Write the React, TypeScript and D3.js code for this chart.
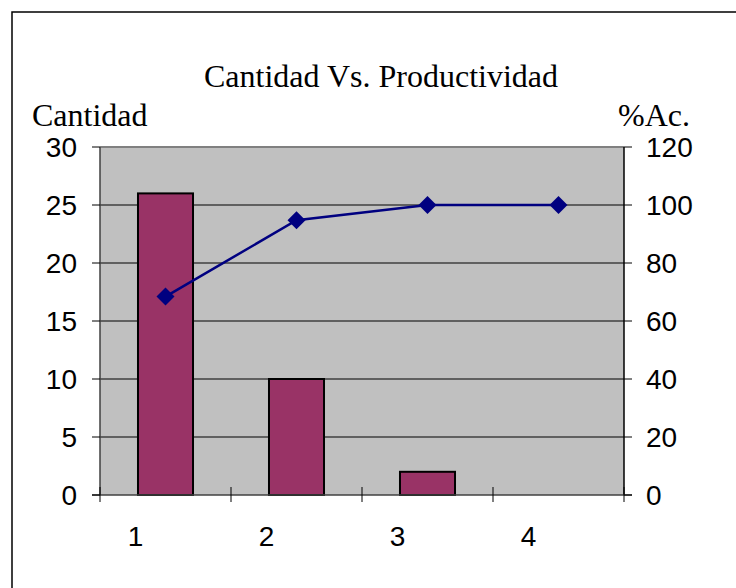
import React from "react";
import * as d3 from "d3";

const categories = ["1", "2", "3", "4"];
const cantidad = [26, 10, 2, 0];
const pctAcumulado = [68.42, 94.74, 100, 100];
const leftTicks = [0, 5, 10, 15, 20, 25, 30];
const rightTicks = [0, 20, 40, 60, 80, 100, 120];

const W = 736;
const H = 588;
const plot = { left: 100, right: 624, top: 147, bottom: 495 };

export default function App() {
  const x = d3.scaleBand<string>().domain(categories).range([plot.left, plot.right]).paddingInner(0).paddingOuter(0);
  const yL = d3.scaleLinear().domain([0, 30]).range([plot.bottom, plot.top]);
  const yR = d3.scaleLinear().domain([0, 120]).range([plot.bottom, plot.top]);
  const bw = x.bandwidth();
  const barW = bw * 0.42;
  const cx = (c: string) => (x(c) as number) + bw / 2;
  const line = d3
    .line<number>()
    .x((_, i) => cx(categories[i]))
    .y((d) => yR(d));
  const sans = "'Liberation Sans', Arial, sans-serif";
  const serif = "'Liberation Serif', 'Times New Roman', serif";
  const boundaries = [...categories.map((c) => x(c) as number), plot.right];

  return (
    <svg width={W} height={H} style={{ position: "absolute", left: 0, top: 0, background: "#fff" }}>
      <rect x={12} y={12} width={W} height={H} fill="#fff" stroke="#000" strokeWidth={1.5} />
      <rect x={plot.left} y={plot.top} width={plot.right - plot.left} height={plot.bottom - plot.top} fill="#C0C0C0" />
      {leftTicks.slice(1, -1).map((t) => (
        <line key={"g" + t} x1={plot.left} x2={plot.right} y1={yL(t)} y2={yL(t)} stroke="#000" strokeWidth={1} />
      ))}
      <line x1={plot.left} x2={plot.right} y1={plot.top} y2={plot.top} stroke="#808080" strokeWidth={2} />
      {/* bars */}
      {cantidad.map((v, i) =>
        v > 0 ? (
          <rect
            key={"b" + i}
            x={cx(categories[i]) - barW / 2}
            y={yL(v)}
            width={barW}
            height={yL(0) - yL(v)}
            fill="#993366"
            stroke="#000"
            strokeWidth={2}
          />
        ) : null
      )}
      {/* axes */}
      <line x1={plot.left} x2={plot.left} y1={plot.top} y2={plot.bottom} stroke="#404040" strokeWidth={1.5} />
      <line x1={plot.right} x2={plot.right} y1={plot.top} y2={plot.bottom} stroke="#000" strokeWidth={1.5} />
      <line x1={plot.left - 8} x2={plot.right + 8} y1={plot.bottom} y2={plot.bottom} stroke="#404040" strokeWidth={1.5} />
      {leftTicks.map((t) => (
        <g key={"l" + t}>
          <line x1={plot.left - 8} x2={plot.left} y1={yL(t)} y2={yL(t)} stroke="#000" strokeWidth={1} />
          <text x={77} y={yL(t)} dy="0.36em" textAnchor="end" fontFamily={sans} fontSize={28} fill="#000">
            {t}
          </text>
        </g>
      ))}
      {rightTicks.map((t) => (
        <g key={"r" + t}>
          <line x1={plot.right} x2={plot.right + 8} y1={yR(t)} y2={yR(t)} stroke="#000" strokeWidth={1} />
          <text x={646} y={yR(t)} dy="0.36em" textAnchor="start" fontFamily={sans} fontSize={28} fill="#000">
            {t}
          </text>
        </g>
      ))}
      {boundaries.map((b, i) => (
        <line key={"t" + i} x1={b} x2={b} y1={plot.bottom - 8} y2={plot.bottom + 7} stroke="#000" strokeWidth={1} />
      ))}
      {categories.map((c) => (
        <text key={"c" + c} x={cx(c) - 30} y={546} textAnchor="middle" fontFamily={sans} fontSize={28} fill="#000">
          {c}
        </text>
      ))}
      {/* line */}
      <path d={line(pctAcumulado) || ""} fill="none" stroke="#000080" strokeWidth={2.5} />
      {pctAcumulado.map((v, i) => {
        const px = cx(categories[i]);
        const py = yR(v);
        const s = 9;
        return (
          <path
            key={"m" + i}
            d={`M${px},${py - s}L${px + s},${py}L${px},${py + s}L${px - s},${py}Z`}
            fill="#000080"
          />
        );
      })}
      {/* titles */}
      <text x={381} y={87} textAnchor="middle" fontFamily={serif} fontSize={32} fill="#000">
        Cantidad Vs. Productividad
      </text>
      <text x={32} y={126} textAnchor="start" fontFamily={serif} fontSize={32} fill="#000">
        Cantidad
      </text>
      <text x={690} y={126} textAnchor="end" fontFamily={serif} fontSize={32} fill="#000">
        %Ac.
      </text>
    </svg>
  );
}
